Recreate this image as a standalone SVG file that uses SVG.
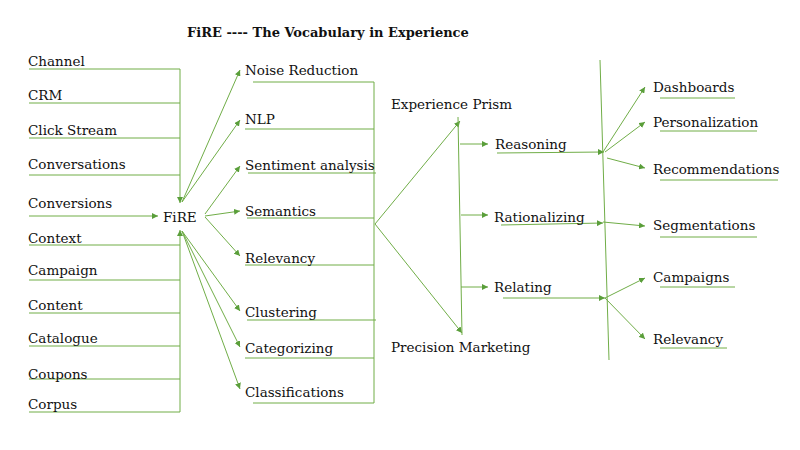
<svg xmlns="http://www.w3.org/2000/svg" width="800" height="450" viewBox="0 0 800 450">
<defs>
<marker id="ah" markerUnits="userSpaceOnUse" markerWidth="7" markerHeight="6" refX="6" refY="3" orient="auto">
<path d="M0,0 L6,3 L0,6 z" fill="#5a9e3a"/>
</marker>
<style>
text{font-family:"DejaVu Serif","Liberation Serif",serif;font-size:13.5px;fill:#111}
.t{font-weight:bold;font-size:13px}
.l{stroke:#70AD47;stroke-width:1;fill:none}
.a{stroke:#70AD47;stroke-width:1;fill:none;marker-end:url(#ah)}
</style>
</defs>
<rect width="800" height="450" fill="#fff"/>
<text class="t" x="187" y="37">FiRE ---- The Vocabulary in Experience</text>
<g id="connectors">
<path class="l" d="M29,69H180M29,103H180M29,138H180M29,175H180"/>
<path class="a" d="M180,69V203"/>
<path class="a" d="M29,216H158"/>
<path class="l" d="M29,245H180M29,280H180M29,313H180M29,346H180M29,379H180M29,412H180"/>
<path class="a" d="M180,412V230"/>
<path class="a" d="M182,202L240,70"/>
<path class="a" d="M182,202L240,120"/>
<path class="a" d="M205,214L240,166"/>
<path class="a" d="M205,216L240,211"/>
<path class="a" d="M205,217L240,256"/>
<path class="a" d="M182,231L240,311"/>
<path class="a" d="M182,231L240,347"/>
<path class="a" d="M182,231L240,389"/>
<path class="l" d="M253,82H374M245,129H374M248,173H376M247,218H374M245,265H374M247,320H376M245,358H374M253,403H374M374,82V403"/>
<path class="a" d="M375,224L460,121"/>
<path class="a" d="M375,224L462,333"/>
<path class="l" d="M458,117L462,335"/>
<path class="a" d="M460,144H488"/>
<path class="a" d="M461,215H488"/>
<path class="a" d="M461,287H488"/>
<path class="a" d="M497,153L604,152"/>
<path class="a" d="M501,225L603,223"/>
<path class="a" d="M503,298L605,298"/>
<path class="l" d="M600,60L609,360"/>
<path class="a" d="M603,152L645,87"/>
<path class="a" d="M605,152L645,122"/>
<path class="a" d="M607,158L645,168"/>
<path class="a" d="M603,222L645,226"/>
<path class="a" d="M605,298L645,278"/>
<path class="a" d="M605,298L645,339"/>
<path class="l" d="M660,98H735M660,131H757M660,180H778M660,237H757M660,287H735M660,348H727"/>
</g>
<g id="n-channel"><text x="28" y="66">Channel</text></g>
<g id="n-crm"><text x="28" y="100">CRM</text></g>
<g id="n-clickstream"><text x="28" y="135">Click Stream</text></g>
<g id="n-conversations"><text x="28" y="169">Conversations</text></g>
<g id="n-conversions"><text x="28" y="208">Conversions</text></g>
<g id="n-fire"><text x="163" y="222">FiRE</text></g>
<g id="n-context"><text x="28" y="243">Context</text></g>
<g id="n-campaign"><text x="28" y="275">Campaign</text></g>
<g id="n-content"><text x="28" y="310">Content</text></g>
<g id="n-catalogue"><text x="28" y="343">Catalogue</text></g>
<g id="n-coupons"><text x="28" y="379">Coupons</text></g>
<g id="n-corpus"><text x="28" y="409">Corpus</text></g>
<g id="n-noise"><text x="245" y="75">Noise Reduction</text></g>
<g id="n-nlp"><text x="245" y="124">NLP</text></g>
<g id="n-sentiment"><text x="245" y="170">Sentiment analysis</text></g>
<g id="n-semantics"><text x="245" y="216">Semantics</text></g>
<g id="n-relevancy1"><text x="245" y="263">Relevancy</text></g>
<g id="n-clustering"><text x="245" y="317">Clustering</text></g>
<g id="n-categorizing"><text x="245" y="353">Categorizing</text></g>
<g id="n-classifications"><text x="245" y="397">Classifications</text></g>
<g id="n-prism"><text x="391" y="109">Experience Prism</text></g>
<g id="n-precision"><text x="391" y="352">Precision Marketing</text></g>
<g id="n-reasoning"><text x="495" y="149">Reasoning</text></g>
<g id="n-rationalizing"><text x="494" y="222">Rationalizing</text></g>
<g id="n-relating"><text x="494" y="292">Relating</text></g>
<g id="n-dashboards"><text x="653" y="92">Dashboards</text></g>
<g id="n-personalization"><text x="653" y="127">Personalization</text></g>
<g id="n-recommendations"><text x="653" y="174">Recommendations</text></g>
<g id="n-segmentations"><text x="653" y="230">Segmentations</text></g>
<g id="n-campaigns"><text x="653" y="282">Campaigns</text></g>
<g id="n-relevancy2"><text x="653" y="344">Relevancy</text></g>
</svg>
